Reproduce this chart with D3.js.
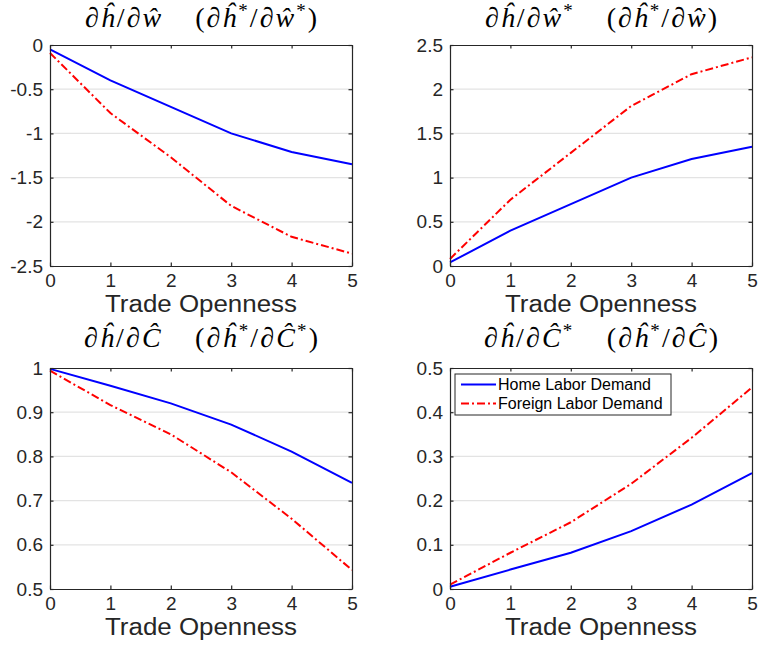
<!DOCTYPE html>
<html>
<head>
<meta charset="utf-8">
<script src="https://cdn.jsdelivr.net/npm/d3@7"></script>
<style>
  html, body { margin: 0; padding: 0; background: #fff; }
  svg { display: block; }
</style>
</head>
<body>
<svg id="chart" width="758" height="648"></svg>
<script>
// ---- data ----
const openness = [0, 1, 2, 3, 4, 5];
const xTickValues = [0, 1, 2, 3, 4, 5];

const homeDW = [-0.05, -0.40, -0.70, -1.00, -1.21, -1.35];
const foreignDW = [-0.09, -0.77, -1.27, -1.82, -2.17, -2.36];
const homeDWStar = [0.04, 0.40, 0.70, 1.00, 1.21, 1.35];
const foreignDWStar = [0.08, 0.75, 1.28, 1.81, 2.17, 2.36];
const homeDC = [0.998, 0.960, 0.920, 0.872, 0.811, 0.740];
const foreignDC = [0.994, 0.916, 0.850, 0.764, 0.659, 0.543];
const homeDCStar = [0.005, 0.044, 0.082, 0.131, 0.191, 0.262];
const foreignDCStar = [0.010, 0.082, 0.151, 0.238, 0.342, 0.456];

const yTicks1 = [0, -0.5, -1, -1.5, -2, -2.5];
const yTicks2 = [0, 0.5, 1, 1.5, 2, 2.5];
const yTicks3 = [0.5, 0.6, 0.7, 0.8, 0.9, 1];
const yTicks4 = [0, 0.1, 0.2, 0.3, 0.4, 0.5];

const seriesNames = ["Home Labor Demand", "Foreign Labor Demand"];
const xLabel = "Trade Openness";

// title segments: [text, italic, superscript]
const titles = [
  [["∂",0,0],["ĥ",1,0],["/∂",0,0],["ŵ",1,0],["GAP"],["(∂",0,0],["ĥ",1,0],["*",0,1],["/∂",0,0],["ŵ",1,0],["*",0,1],[")",0,0]],
  [["∂",0,0],["ĥ",1,0],["/∂",0,0],["ŵ",1,0],["*",0,1],["GAP"],["(∂",0,0],["ĥ",1,0],["*",0,1],["/∂",0,0],["ŵ",1,0],[")",0,0]],
  [["∂",0,0],["ĥ",1,0],["/∂",0,0],["Ĉ",1,0],["GAP"],["(∂",0,0],["ĥ",1,0],["*",0,1],["/∂",0,0],["Ĉ",1,0],["*",0,1],[")",0,0]],
  [["∂",0,0],["ĥ",1,0],["/∂",0,0],["Ĉ",1,0],["*",0,1],["GAP"],["(∂",0,0],["ĥ",1,0],["*",0,1],["/∂",0,0],["Ĉ",1,0],[")",0,0]]
];

const panels = [
  { left: 50,  top: 45,  home: homeDW,     foreign: foreignDW,     domain: [-2.5, 0], ticks: yTicks1, title: titles[0], legend: false, titleY: -18, titleW: 232 },
  { left: 450, top: 45,  home: homeDWStar, foreign: foreignDWStar, domain: [0, 2.5],  ticks: yTicks2, title: titles[1], legend: false, titleY: -18, titleW: 232 },
  { left: 50,  top: 368, home: homeDC,     foreign: foreignDC,     domain: [0.5, 1],  ticks: yTicks3, title: titles[2], legend: false, titleY: -21, titleW: 234 },
  { left: 450, top: 368, home: homeDCStar, foreign: foreignDCStar, domain: [0, 0.5],  ticks: yTicks4, title: titles[3], legend: true,  titleY: -21, titleW: 234 }
];

const W = 302, H = 221;
const axisColor = "#262626";
const gridColor = "#e3e3e3";
const blue = "#0000ff", red = "#ff0000";
const dashDot = "8,3,2,3";
const sans = "'Liberation Sans', Arial, Helvetica, sans-serif";
const serif = "'Liberation Serif', 'DejaVu Serif', serif";

const svg = d3.select("#chart");

panels.forEach(p => {
  const g = svg.append("g").attr("transform", `translate(${p.left},${p.top})`);
  const x = d3.scaleLinear().domain([0, 5]).range([0, W]);
  const y = d3.scaleLinear().domain(p.domain).range([H, 0]);

  // grid
  g.append("g").selectAll("line").data(p.ticks.filter(t => t !== p.domain[0] && t !== p.domain[1]))
    .join("line")
    .attr("x1", 0).attr("x2", W)
    .attr("y1", d => y(d)).attr("y2", d => y(d))
    .attr("stroke", gridColor).attr("stroke-width", 1.2);

  // lines
  const line = d3.line().x((d, i) => x(openness[i])).y(d => y(d));
  g.append("path").datum(p.home).attr("d", line)
    .attr("fill", "none").attr("stroke", blue).attr("stroke-width", 2);
  g.append("path").datum(p.foreign).attr("d", line)
    .attr("fill", "none").attr("stroke", red).attr("stroke-width", 2)
    .attr("stroke-dasharray", dashDot);

  // axes (ticks inward)
  const tl = 3.5;
  const xb = g.append("g").attr("transform", `translate(0,${H})`)
    .call(d3.axisBottom(x).tickValues(xTickValues).tickSizeInner(-tl).tickSizeOuter(0).tickPadding(8).tickFormat(d3.format("d")));
  const xt = g.append("g")
    .call(d3.axisTop(x).tickValues(xTickValues).tickSizeInner(-tl).tickSizeOuter(0).tickFormat(""));
  const yl = g.append("g")
    .call(d3.axisLeft(y).tickValues(p.ticks).tickSizeInner(-tl).tickSizeOuter(0).tickPadding(7).tickFormat(d => String(d)));
  const yr = g.append("g").attr("transform", `translate(${W},0)`)
    .call(d3.axisRight(y).tickValues(p.ticks).tickSizeInner(-tl).tickSizeOuter(0).tickFormat(""));
  [xb, xt, yl, yr].forEach(a => {
    a.selectAll("path.domain").attr("stroke", axisColor).attr("stroke-width", 1.2);
    a.selectAll(".tick line").attr("stroke", axisColor).attr("stroke-width", 1.2);
    a.selectAll("text").attr("fill", axisColor).style("font-family", sans).style("font-size", "19px");
  });

  // x label
  g.append("text")
    .attr("x", W / 2).attr("y", H + 46)
    .attr("text-anchor", "middle")
    .attr("textLength", 192).attr("lengthAdjust", "spacingAndGlyphs")
    .style("font-family", sans).style("font-size", "23px").attr("fill", axisColor)
    .text(xLabel);

  // title
  const t = g.append("text")
    .attr("x", W / 2).attr("y", p.titleY)
    .attr("text-anchor", "middle")
    .attr("textLength", p.titleW).attr("lengthAdjust", "spacing")
    .style("font-family", serif).style("font-size", "28px").attr("fill", "#000");
  let raised = false;
  p.title.forEach(seg => {
    if (seg[0] === "GAP") {
      const gs = t.append("tspan").text("\u2002\u2002");
      if (raised) { gs.attr("dy", 10); raised = false; }
      return;
    }
    const [txt, it, sup] = seg;
    const ts = t.append("tspan").text(txt);
    if (it) ts.style("font-style", "italic");
    if (sup && !raised) { ts.attr("dy", -10).style("font-size", "19px"); raised = true; }
    else if (sup) { ts.style("font-size", "19px"); }
    else if (raised) { ts.attr("dy", 10); raised = false; }
  });

  // legend
  if (p.legend) {
    const lg = g.append("g").attr("transform", "translate(5,6)");
    lg.append("rect").attr("x", 0).attr("y", 0).attr("width", 216).attr("height", 41)
      .attr("fill", "#fff").attr("stroke", axisColor).attr("stroke-width", 1);
    seriesNames.forEach((name, i) => {
      const yy = 10.5 + i * 19;
      lg.append("line").attr("x1", 6).attr("x2", 41).attr("y1", yy).attr("y2", yy)
        .attr("stroke", i === 0 ? blue : red).attr("stroke-width", 2)
        .attr("stroke-dasharray", i === 0 ? null : dashDot);
      lg.append("text").attr("x", 43).attr("y", yy + 5.5)
        .style("font-family", sans).style("font-size", "16px").attr("fill", "#000")
        .text(name);
    });
  }
});
</script>
</body>
</html>
